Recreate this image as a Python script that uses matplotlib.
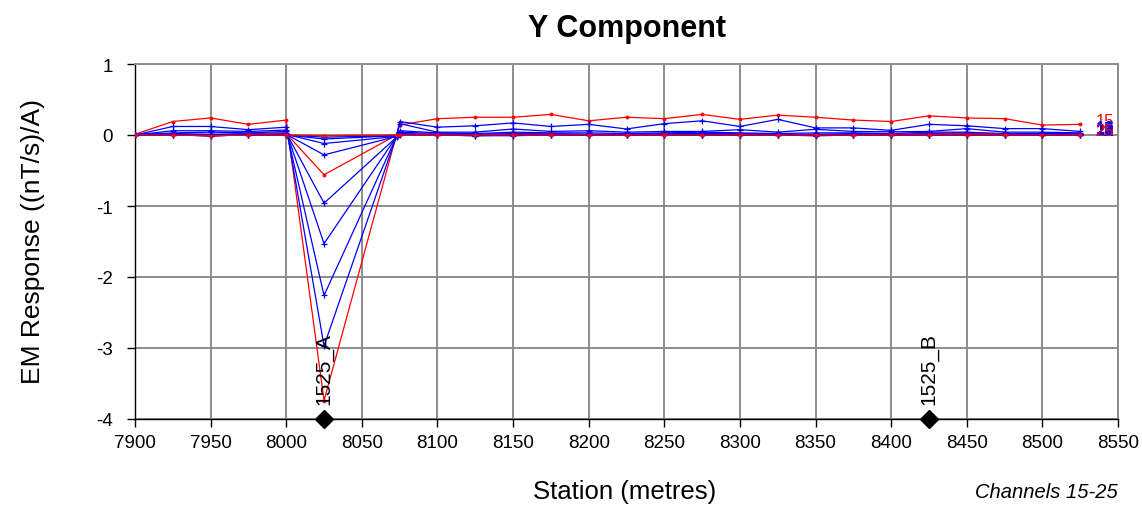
import matplotlib
matplotlib.use("Agg")
import matplotlib.pyplot as plt

plt.rcParams['font.family'] = ['Liberation Sans', 'DejaVu Sans']
plt.rcParams['axes.unicode_minus'] = False

stations = [7900, 7925, 7950, 7975, 8000, 8025, 8073, 8075, 8100, 8125, 8150,
            8175, 8200, 8225, 8250, 8275, 8300, 8325, 8350, 8375, 8400, 8425,
            8450, 8475, 8500, 8525]

ch15 = [0.01, 0.19, 0.24, 0.15, 0.21, -3.74, 0.01, 0.14, 0.23, 0.25, 0.25, 0.29, 0.20,
        0.25, 0.23, 0.29, 0.22, 0.28, 0.25, 0.21, 0.19, 0.27, 0.24, 0.23, 0.14, 0.15]
ch16 = [0.00, 0.12, 0.12, 0.075, 0.11, -2.97, -0.01, 0.19, 0.11, 0.13, 0.17, 0.12, 0.15,
        0.085, 0.16, 0.20, 0.12, 0.22, 0.10, 0.10, 0.065, 0.15, 0.13, 0.09, 0.09, 0.05]
ch17 = [0.00, 0.06, 0.06, 0.05, 0.07, -2.26, -0.02, 0.16, 0.04, 0.04, 0.085, 0.05, 0.06,
        0.04, 0.05, 0.05, 0.075, 0.04, 0.08, 0.05, 0.045, 0.05, 0.09, 0.04, 0.04, 0.03]
ch18 = [0.00, 0.03, 0.04, 0.03, 0.05, -1.53, -0.02, 0.06, 0.03, 0.02, 0.04, 0.03, 0.03,
        0.02, 0.03, 0.04, 0.03, 0.02, 0.03, 0.03, 0.02, 0.04, 0.04, 0.02, 0.02, 0.02]
ch19 = [0.00, 0.02, 0.01, 0.02, 0.03, -0.96, -0.03, 0.04, 0.02, 0.01, 0.02, 0.02, 0.01,
        0.01, 0.02, 0.02, 0.02, 0.01, 0.01, 0.02, 0.01, 0.02, 0.03, 0.01, 0.01, 0.01]
ch20 = [0.00, 0.01, -0.02, 0.01, 0.02, -0.56, 0.00, 0.02, 0.01, 0.00, 0.01, 0.01, 0.00,
        0.00, 0.01, 0.00, 0.01, 0.00, -0.01, 0.00, 0.01, 0.01, 0.02, 0.01, 0.00, 0.01]
ch21 = [0.00, 0.01, 0.00, 0.00, 0.01, -0.28, -0.02, 0.02, 0.00, -0.01, -0.01, 0.00, 0.00,
        0.00, 0.00, 0.00, 0.00, 0.00, 0.00, 0.00, 0.00, 0.00, 0.01, 0.00, 0.00, 0.00]
ch22 = [0.00, 0.00, 0.00, 0.00, 0.01, -0.12, -0.02, 0.01, 0.00, -0.01, 0.00, 0.00, 0.00,
        0.00, 0.00, 0.00, 0.00, 0.00, -0.01, 0.00, 0.00, 0.00, 0.00, 0.00, 0.00, 0.00]
ch23 = [0.00, 0.00, -0.01, 0.00, 0.00, -0.056, -0.01, 0.01, 0.00, 0.00, 0.00, 0.00, 0.00,
        0.00, 0.00, 0.00, 0.00, 0.00, 0.00, 0.00, 0.00, 0.00, 0.00, 0.00, 0.00, 0.00]
ch24 = [0.00, 0.00, 0.00, 0.00, 0.00, -0.03, -0.01, 0.00, 0.00, 0.00, 0.00, 0.00, 0.00,
        0.00, 0.00, 0.00, 0.00, 0.00, 0.00, 0.00, 0.00, 0.00, 0.00, 0.00, 0.00, 0.00]
ch25 = [0.00, 0.00, -0.01, 0.00, 0.00, -0.01, 0.00, 0.00, 0.00, 0.00, 0.00, 0.00, 0.00,
        0.00, 0.00, 0.00, 0.00, 0.00, 0.00, 0.00, 0.00, 0.00, 0.00, 0.00, 0.00, 0.00]

channel_names = ["15", "16", "17", "18", "19", "20", "21", "22", "23", "24", "25"]
channels = [ch15, ch16, ch17, ch18, ch19, ch20, ch21, ch22, ch23, ch24, ch25]

hole_names = ["1525_A", "1525_B"]
hole_stations = [8025, 8425]

x_ticks = list(range(7900, 8551, 50))
y_ticks = [-4, -3, -2, -1, 0, 1]

fig = plt.figure(figsize=(11.42, 5.06), dpi=100)
ax = fig.add_axes([135 / 1142, 1 - 420 / 506, 983 / 1142, 355 / 506])

for name, vals in zip(channel_names, channels):
    red = int(name) % 5 == 0
    color = '#FF0000' if red else '#0000FF'
    if red:
        ax.plot(stations, vals, color=color, lw=0.9, marker='o', ms=2.8, mew=0,
                zorder=3)
    else:
        ax.plot(stations, vals, color=color, lw=0.9, marker='+', ms=5, mew=0.9,
                zorder=3)
    ax.annotate(name, (stations[-1], vals[-1]), xytext=(11, 3),
                textcoords='offset points', color=color, fontsize=12,
                va='center', ha='left', annotation_clip=False, zorder=4)

ax.set_xlim(7900, 8550)
ax.set_ylim(-4, 1)
ax.set_xticks(x_ticks)
ax.set_yticks(y_ticks)
ax.set_xticklabels([str(v) for v in x_ticks])
ax.set_yticklabels([str(v) for v in y_ticks])
ax.tick_params(axis='both', labelsize=13.5, direction='out', length=6, width=1,
               color='black')
ax.tick_params(axis='x', pad=5)
ax.tick_params(axis='y', pad=10)
ax.grid(True, color='#8C8C8C', lw=1.4)
ax.set_axisbelow(True)
for side in ('top', 'right'):
    ax.spines[side].set_color('#8C8C8C')
    ax.spines[side].set_linewidth(1.4)
for side in ('left', 'bottom'):
    ax.spines[side].set_color('black')
    ax.spines[side].set_linewidth(1.0)

# Borehole collar markers along the bottom axis
for name, st in zip(hole_names, hole_stations):
    ax.plot([st], [-4], marker='D', color='black', ms=9, clip_on=False, zorder=5)
    ax.text(st, -3.79, name, rotation=90, ha='center', va='bottom',
            fontsize=15, color='black', zorder=5)

fig.text(627 / 1142, 1 - 29 / 506, "Y Component", ha='center', va='center',
         fontsize=22, fontweight='bold')
fig.text(625 / 1142, 1 - 492 / 506, "Station (metres)", ha='center',
         va='center', fontsize=18.5)
fig.text(33 / 1142, 1 - 241 / 506, "EM Response ((nT/s)/A)", ha='center',
         va='center', rotation=90, fontsize=19)
fig.text(1118 / 1142, 1 - 493 / 506, "Channels 15-25", ha='right', va='center',
         fontsize=14.5, style='italic')

fig.savefig("out.png", dpi=100)
